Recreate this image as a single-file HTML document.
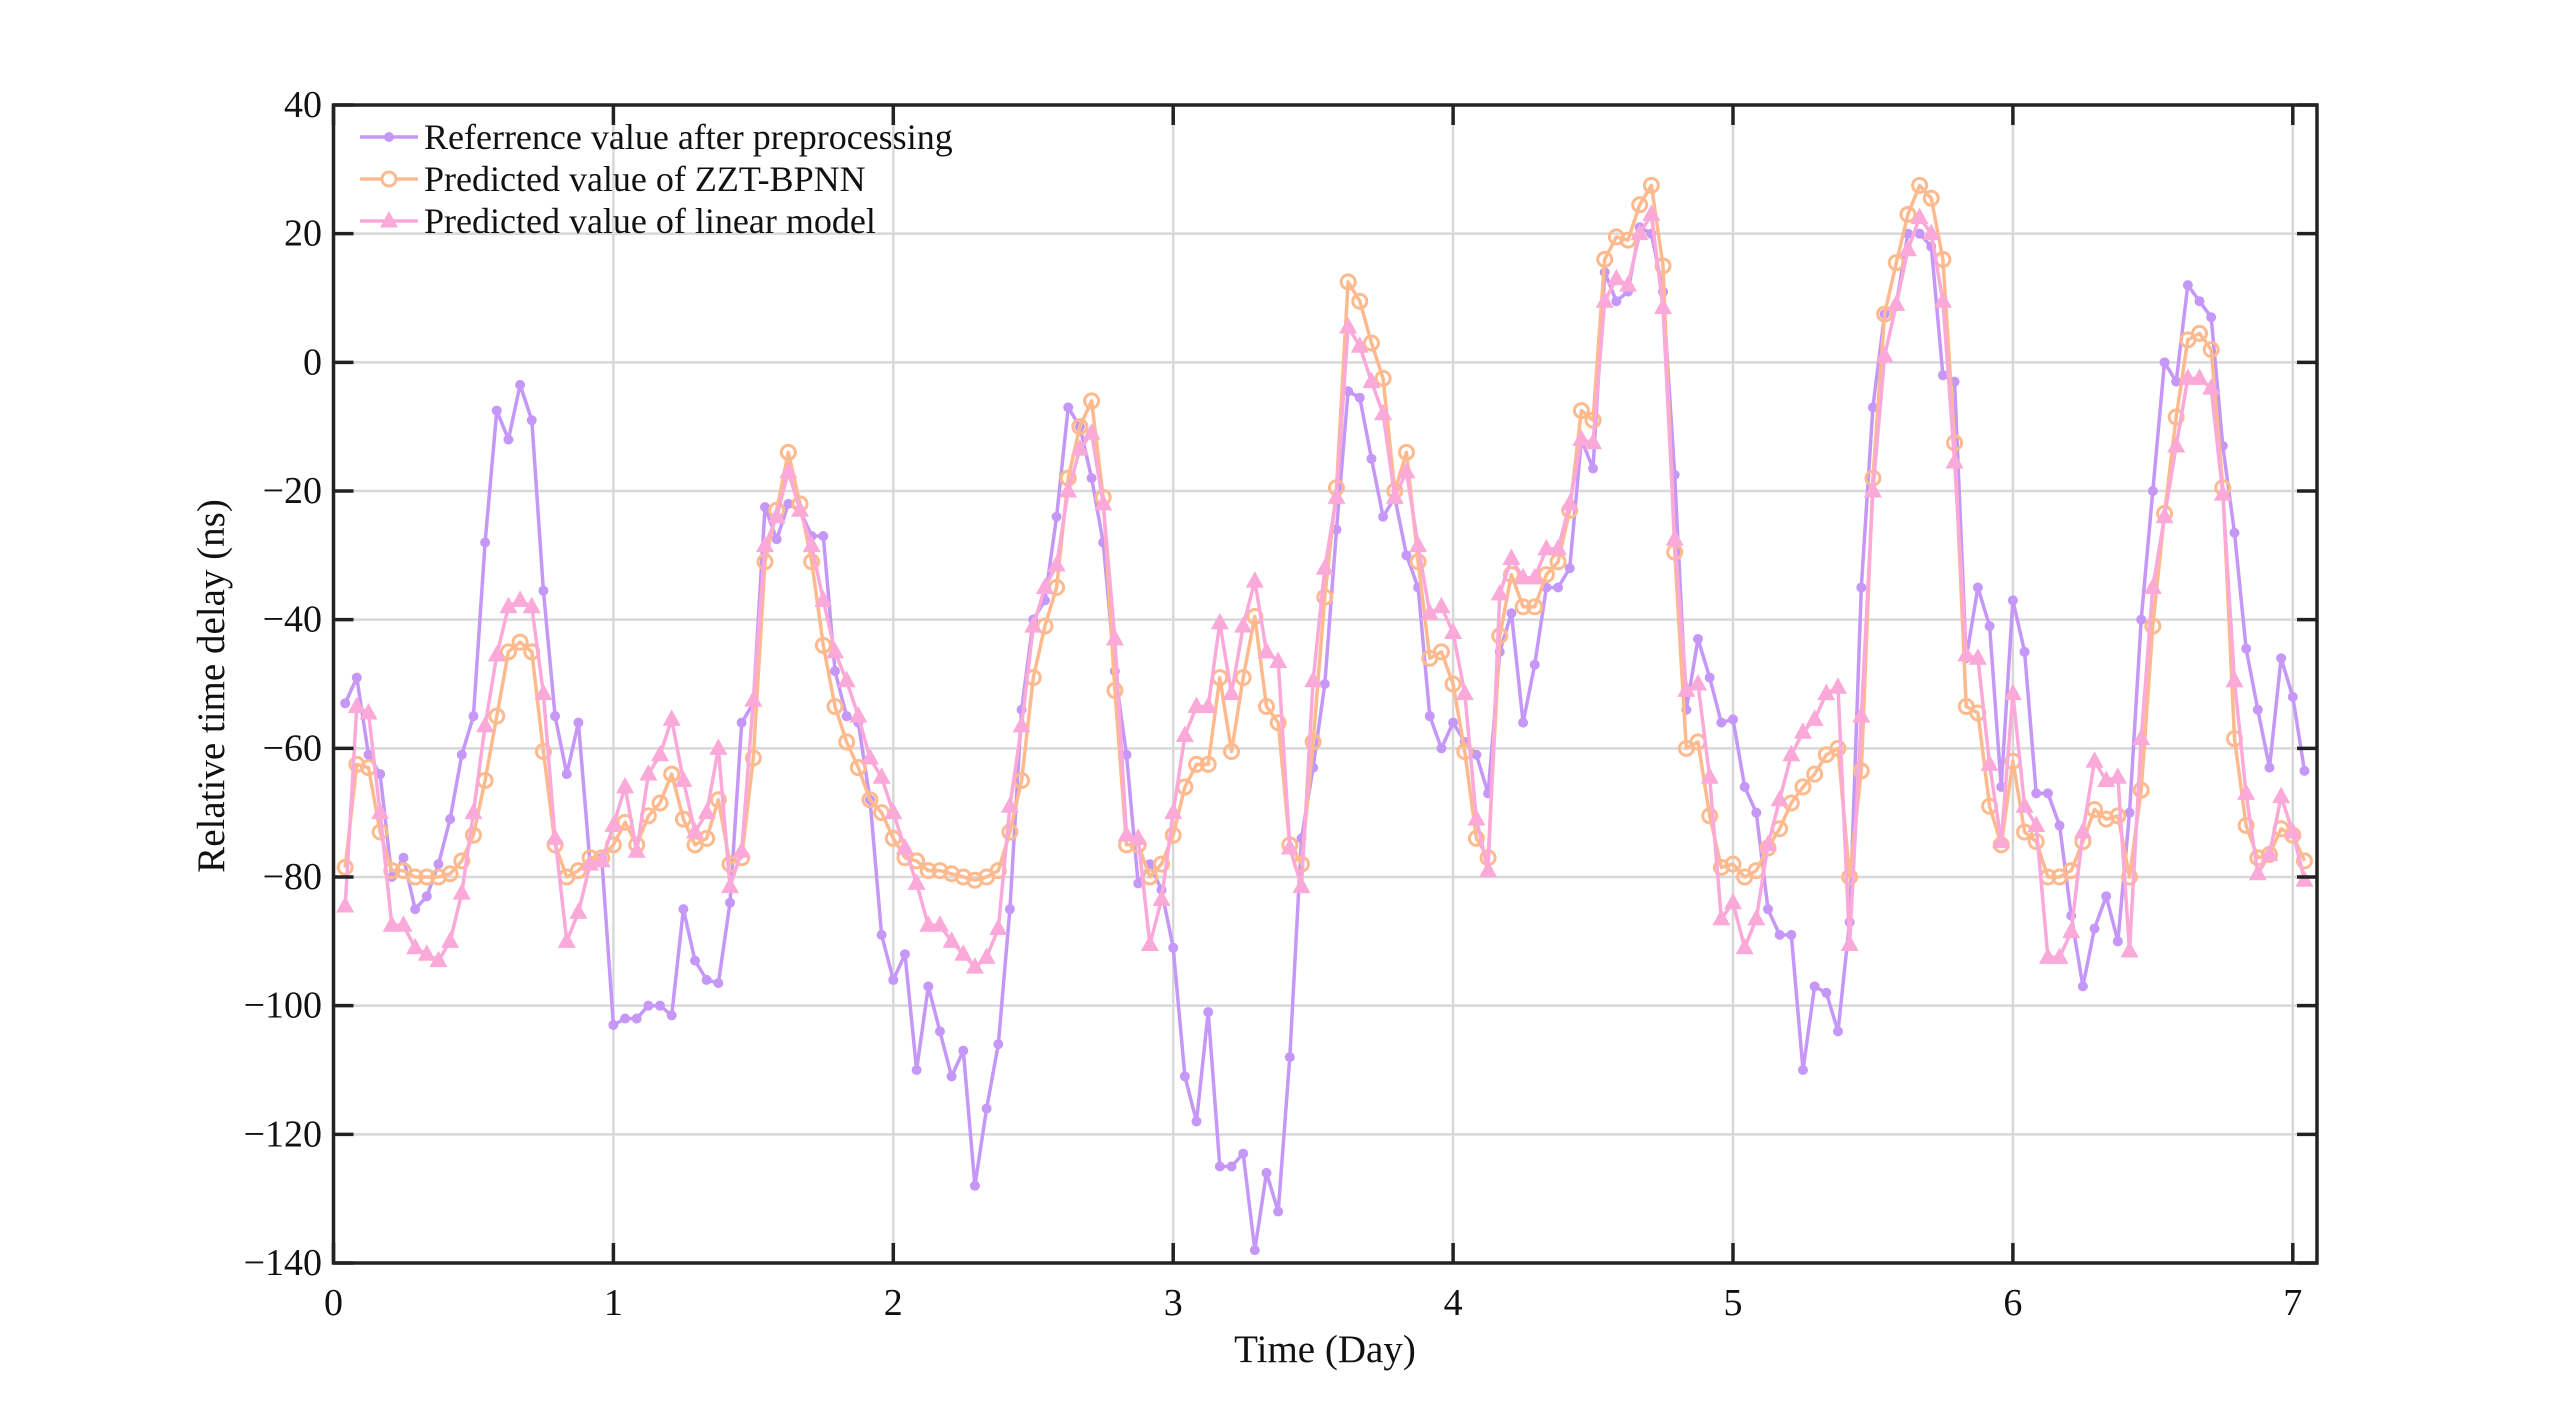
<!DOCTYPE html>
<html><head><meta charset="utf-8">
<style>
html,body{margin:0;padding:0;background:#fff;}
svg{display:block;}
text{font-family:"Liberation Serif","Times New Roman",serif;fill:#111;}
</style></head>
<body>
<svg id="s" width="2560" height="1420" xmlns="http://www.w3.org/2000/svg"></svg>
<script>
const L=333.5,R=2317,T=105,B=1263,DAY=279.9;
const X=d=>L+d*DAY, Y=v=>T+(40-v)*(B-T)/180;
const ds=[210,217,224,231,238,246,253,260,267,275,282,289,296,303,311,318,325,332,339,346,354,361,368,375,382,389,396,403,410,418,425,432,439,446,453,461,468,475,482,489,496,504,511,518,525,532,539,546,553,560,568,575,582,589,596,603,610,617,625,632,639,646,653,660,668,675,682,689,696,703,710,718,725,732,739,746,753,760,768,775,782,789,796,803,811,818,825,832,839,846,853,861,868,875,882,889,896,903,910,918,925,932,939,946,953,961,968,975,982,989,996,1003,1011,1018,1025,1032,1039,1046,1053,1061,1068,1075,1082,1089,1096,1103,1111,1118,1125,1132,1139,1146,1153,1161,1168,1175,1182,1189,1196,1203,1211,1218,1225,1232,1239,1246,1253,1261,1268,1275,1282,1289,1296,1303,1310,1318,1325,1332,1339,1346,1353,1361,1368,1375,1382,1389,1396,1403,1411];
const P=[-53,-49,-61,-64,-80,-77,-85,-83,-78,-71,-61,-55,-28,-7.5,-12,-3.5,-9,-35.5,-55,-64,-56,-78,-77,-103,-102,-102,-100,-100,-101.5,-85,-93,-96,-96.5,-84,-56,-53,-22.5,-27.5,-22,-23,-27,-27,-48,-55,-56,-68,-89,-96,-92,-110,-97,-104,-111,-107,-128,-116,-106,-85,-54,-40,-37,-24,-7,-10,-18,-28,-48,-61,-81,-78,-82,-91,-111,-118,-101,-125,-125,-123,-138,-126,-132,-108,-74,-63,-50,-26,-4.5,-5.5,-15,-24,-21,-30,-35,-55,-60,-56,-59,-61,-67,-45,-39,-56,-47,-35,-35,-32,-12,-16.5,14,9.5,11,21,20,11,-17.5,-54,-43,-49,-56,-55.5,-66,-70,-85,-89,-89,-110,-97,-98,-104,-87,-35,-7,7.5,9,20,20,18,-2,-3,-46,-35,-41,-66,-37,-45,-67,-67,-72,-86,-97,-88,-83,-90,-70,-40,-20,0,-3,12,9.5,7,-13,-26.5,-44.5,-54,-63,-46,-52,-63.5];
const O=[-78.5,-62.5,-63,-73,-79,-79,-80,-80,-80,-79.5,-77.5,-73.5,-65,-55,-45,-43.5,-45,-60.5,-75,-80,-79,-77,-77,-75,-71.5,-75,-70.5,-68.5,-64,-71,-75,-74,-68,-78,-77,-61.5,-31,-23,-14,-22,-31,-44,-53.5,-59,-63,-68,-70,-74,-77,-77.5,-79,-79,-79.5,-80,-80.5,-80,-79,-73,-65,-49,-41,-35,-18,-10,-6,-21,-51,-75,-75,-80,-78,-73.5,-66,-62.5,-62.5,-49,-60.5,-49,-39.5,-53.5,-56,-75,-78,-59,-36.5,-19.5,12.5,9.5,3,-2.5,-20,-14,-31,-46,-45,-50,-60.5,-74,-77,-42.5,-33,-38,-38,-33,-31,-23,-7.5,-9,16,19.5,19,24.5,27.5,15,-29.5,-60,-59,-70.5,-78.5,-78,-80,-79,-75.5,-72.5,-68.5,-66,-64,-61,-60,-80,-63.5,-18,7.5,15.5,23,27.5,25.5,16,-12.5,-53.5,-54.5,-69,-75,-62,-73,-74.5,-80,-80,-79,-74.5,-69.5,-71,-70.5,-80,-66.5,-41,-23.5,-8.5,3.5,4.5,2,-19.5,-58.5,-72,-77,-76.5,-72.5,-73.5,-77.5];
const K=[-84.5,-53.5,-54.5,-70,-87.5,-87.5,-91,-92,-93,-90,-82.5,-70,-56.5,-45.5,-38,-37,-38,-51.5,-74,-90,-85.5,-78,-77.5,-72,-66,-76,-64,-61,-55.5,-65,-73,-70,-60,-81.5,-76,-52.5,-28.5,-24,-17,-23,-28.5,-37,-45,-49.5,-55,-61.5,-64.5,-70,-75.5,-81,-87.5,-87.5,-90,-92,-94,-92.5,-88,-69,-56.5,-41,-35,-31.5,-20,-13.5,-11,-22,-43,-73.5,-74,-90.5,-83.5,-70,-58,-53.5,-53.5,-40.5,-51.5,-41,-34,-45,-46.5,-75.5,-81.5,-49.5,-32,-21,5.5,2.5,-3,-8,-21,-17,-28.5,-39,-38,-42,-51.5,-71,-79,-36,-30.5,-33.5,-33.5,-29,-29,-22,-12,-12.5,9.5,13,12,20,23,8.5,-27.5,-51,-50,-64.5,-86.5,-84,-91,-86.5,-75,-68,-61,-57.5,-55.5,-51.5,-50.5,-90.5,-55,-20,1,9,17.5,22.5,20,9.5,-15.5,-45.5,-46,-62.5,-74.5,-51.5,-69,-72,-92.5,-92.5,-88.5,-73,-62,-65,-64.5,-91.5,-58.5,-35,-24,-13,-2.5,-2.5,-4,-20.5,-49.5,-67,-79.5,-76.5,-67.5,-73,-80.5];
const xs=ds.map(d=>X(Math.round((d-205)/7.142)/24));
let h='';
for(let d=1;d<=7;d++)h+=`<line x1="${X(d)}" y1="${T}" x2="${X(d)}" y2="${B}" stroke="#d8d8d8" stroke-width="2.5"/>`;
for(let v=-120;v<=20;v+=20)h+=`<line x1="${L}" y1="${Y(v)}" x2="${R}" y2="${Y(v)}" stroke="#d8d8d8" stroke-width="2.5"/>`;
function series(vals,col){
  let pts=vals.map((v,i)=>xs[i].toFixed(1)+','+Y(v).toFixed(1)).join(' ');
  return `<polyline points="${pts}" fill="none" stroke="${col}" stroke-width="3.5" stroke-linejoin="round"/>`;
}
h+=series(P,'#c597f7');
P.forEach((v,i)=>h+=`<circle cx="${xs[i]}" cy="${Y(v)}" r="5" fill="#c597f7"/>`);
h+=series(O,'#fdba8e');
O.forEach((v,i)=>h+=`<circle cx="${xs[i]}" cy="${Y(v)}" r="7" fill="none" stroke="#fdba8e" stroke-width="3"/>`);
h+=series(K,'#fba9d8');
const tri=(x,y,s)=>`<polygon points="${x},${y-s} ${x-s*0.9},${y+s*0.65} ${x+s*0.9},${y+s*0.65}" fill="#fba9d8"/>`;
K.forEach((v,i)=>h+=tri(xs[i],Y(v),10));
h+=`<rect x="${L}" y="${T}" width="${R-L}" height="${B-T}" fill="none" stroke="#222" stroke-width="3.5"/>`;
for(let d=0;d<=7;d++){h+=`<line x1="${X(d)}" y1="${B}" x2="${X(d)}" y2="${B-20}" stroke="#222" stroke-width="3.5"/><line x1="${X(d)}" y1="${T}" x2="${X(d)}" y2="${T+20}" stroke="#222" stroke-width="3.5"/>`;
 h+=`<text x="${X(d)}" y="1315" font-size="38" text-anchor="middle">${d}</text>`;}
for(let v=-140;v<=40;v+=20){h+=`<line x1="${L}" y1="${Y(v)}" x2="${L+20}" y2="${Y(v)}" stroke="#222" stroke-width="3.5"/><line x1="${R}" y1="${Y(v)}" x2="${R-20}" y2="${Y(v)}" stroke="#222" stroke-width="3.5"/>`;
 h+=`<text x="322" y="${Y(v)+12}" font-size="38" text-anchor="end">${v<0?'\u2212'+(-v):v}</text>`;}
h+=`<text x="1325" y="1362" font-size="39" text-anchor="middle">Time (Day)</text>`;
h+=`<text transform="translate(224,686) rotate(-90)" font-size="39" text-anchor="middle">Relative time delay (ns)</text>`;
const lg=[['Referrence value after preprocessing','#c597f7','d'],['Predicted value of ZZT-BPNN','#fdba8e','o'],['Predicted value of linear model','#fba9d8','t']];
lg.forEach((e,i)=>{const y=137+i*42;
 h+=`<line x1="360" y1="${y}" x2="418" y2="${y}" stroke="${e[1]}" stroke-width="3.5"/>`;
 if(e[2]=='d')h+=`<circle cx="389" cy="${y}" r="5" fill="${e[1]}"/>`;
 if(e[2]=='o')h+=`<circle cx="389" cy="${y}" r="7" fill="#fff" stroke="${e[1]}" stroke-width="3"/>`;
 if(e[2]=='t')h+=tri(389,y,10);
 h+=`<text x="424" y="${y+12}" font-size="36">${e[0]}</text>`;});
document.getElementById('s').innerHTML=h;
</script>
</body></html>
